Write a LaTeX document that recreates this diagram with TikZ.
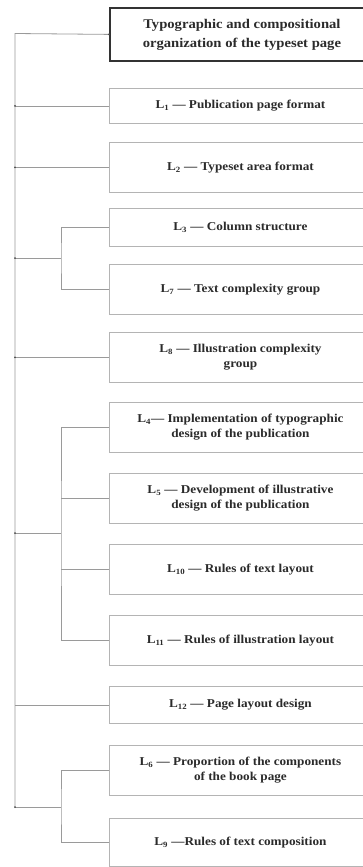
\documentclass[tikz,border=0pt]{standalone}
\usepackage{fontspec}
\setmainfont{Liberation Serif}[FakeStretch=1.1]
\definecolor{txt}{HTML}{2B2B2B}
\definecolor{boxline}{HTML}{B4B4B4}
\definecolor{conn}{HTML}{9A9A9A}
\tikzset{
  box/.style={draw=boxline, line width=0.9pt, fill=white, minimum width=262pt, inner sep=2pt,
    align=center, text=txt, font=\bfseries\fontsize{12}{15}\selectfont, anchor=north west},
  topbox/.style={draw=black!80, line width=1.8pt, fill=white, minimum width=264pt, inner sep=2pt,
    align=center, text=txt, font=\bfseries\fontsize{13.3}{19}\selectfont, anchor=north west},
  link/.style={draw=conn, line width=0.8pt},
  jdot/.style={circle, fill=black!70, inner sep=0pt, minimum size=2pt}
}
\begin{document}
\begin{tikzpicture}[x=1pt, y=-1pt]
\useasboundingbox (0,0) rectangle (363,867);
\begin{scope}
\clip (0,0) rectangle (363,867);
\node[topbox, minimum height=53pt] (top) at (109,7) {Typographic and compositional\\organization of the typeset page};
\node[box, minimum height=35pt] (l1) at (109,88) {L\textsubscript{1} — Publication page format};
\node[box, minimum height=50pt] (l2) at (109,142) {L\textsubscript{2} — Typeset area format};
\node[box, minimum height=38pt] (l3) at (109,208) {L\textsubscript{3} — Column structure};
\node[box, minimum height=50pt] (l7) at (109,264) {L\textsubscript{7} — Text complexity group};
\node[box, minimum height=50pt] (l8) at (109,332) {L\textsubscript{8} — Illustration complexity\\group};
\node[box, minimum height=50pt] (l4) at (109,402) {L\textsubscript{4}— Implementation of typographic\\design of the publication};
\node[box, minimum height=50pt] (l5) at (109,473) {L\textsubscript{5} — Development of illustrative\\design of the publication};
\node[box, minimum height=50pt] (l10) at (109,544) {L\textsubscript{10} — Rules of text layout};
\node[box, minimum height=50pt] (l11) at (109,615) {L\textsubscript{11} — Rules of illustration layout};
\node[box, minimum height=37pt] (l12) at (109,686) {L\textsubscript{12} — Page layout design};
\node[box, minimum height=50pt] (l6) at (109,745) {L\textsubscript{6} — Proportion of the components\\of the book page};
\node[box, minimum height=48pt] (l9) at (109,818) {L\textsubscript{9} —Rules of text composition};
\end{scope}
% trunk and branch coordinates
\coordinate (t0) at (15,33.5);
\coordinate (tEnd) at (15,807);
\coordinate (g1) at (61,258);
\coordinate (g2) at (61,533);
\coordinate (g3) at (61,807);
\draw[link] (top.west) -- (t0) -- (tEnd);
\draw[link] (l1.west) -- (l1.west -| t0);
\draw[link] (l2.west) -- (l2.west -| t0);
\draw[link] (l8.west) -- (l8.west -| t0);
\draw[link] (l12.west) -- (l12.west -| t0);
\draw[link] (l3.west) -| (g1) |- (l7.west);
\draw[link] (g1) -- (g1 -| t0);
\draw[link] (l4.west) -| (g2) |- (l11.west);
\draw[link] (l5.west) -- (l5.west -| g2);
\draw[link] (l10.west) -- (l10.west -| g2);
\draw[link] (g2) -- (g2 -| t0);
\draw[link] (l6.west) -| (g3) |- (l9.west);
\draw[link] (g3) -- (tEnd);
\node[jdot] (d0) at (top.west) {};
\node[jdot] (d1) at (l1.west -| t0) {};
\node[jdot] (d2) at (l2.west -| t0) {};
\node[jdot] (d3) at (g1 -| t0) {};
\node[jdot] (d4) at (l8.west -| t0) {};
\node[jdot] (d5) at (g2 -| t0) {};
\node[jdot] (d6) at (tEnd) {};
\end{tikzpicture}
\end{document}
